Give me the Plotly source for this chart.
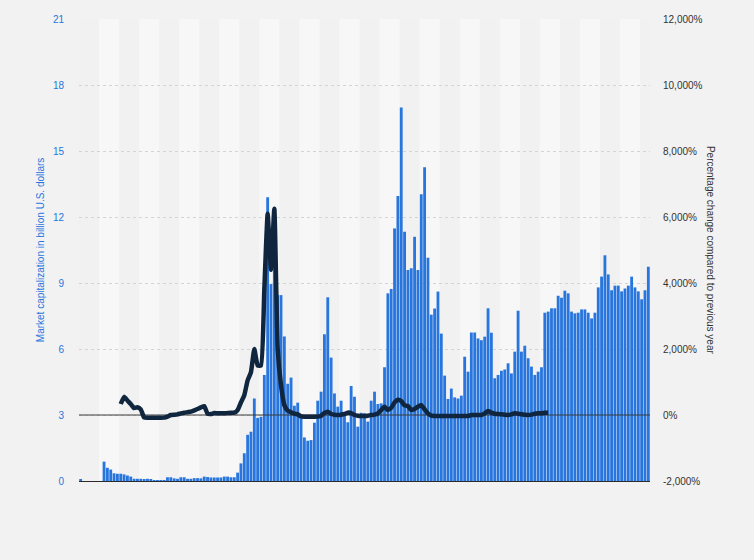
import plotly.graph_objects as go

# Market capitalization (billion U.S. dollars), one bar per month, oldest first
market_cap = [
    0.08, 0, 0, 0, 0, 0, 0, 0.88, 0.6, 0.52,
    0.35, 0.33, 0.33, 0.3, 0.25, 0.2, 0.1, 0.1, 0.1, 0.09,
    0.1, 0.05, 0.04, 0.03, 0.03, 0.03, 0.17, 0.17, 0.12, 0.1,
    0.17, 0.17, 0.1, 0.1, 0.13, 0.13, 0.12, 0.2, 0.18, 0.16,
    0.16, 0.16, 0.16, 0.2, 0.2, 0.17, 0.17, 0.38, 0.8, 1.26,
    2.1, 2.24, 3.75, 2.87, 2.92, 4.82, 12.9, 8.95, 10.8, 8.45,
    8.45, 6.57, 4.42, 4.7, 3.42, 3.56, 2.92, 1.98, 1.83, 1.86,
    2.65, 3.65, 4.06, 6.67, 8.35, 5.61, 3.98, 3.38, 3.65, 3.08,
    2.67, 4.32, 3.83, 2.47, 3.1, 3.08, 2.7, 3.65, 4.06, 3.5,
    3.53, 5.17, 8.53, 8.73, 11.48, 12.95, 16.98, 11.33, 9.59, 9.67,
    11.1, 9.59, 13.03, 14.26, 10.15, 7.56, 7.84, 8.61, 6.7, 4.79,
    3.73, 4.2, 3.8, 3.75, 3.88, 5.65, 4.97, 6.75, 6.75, 6.48,
    6.4, 6.56, 7.85, 6.74, 4.67, 4.82, 5.01, 5.07, 5.35, 4.89,
    5.88, 7.74, 5.88, 6.15, 5.58, 5.2, 4.82, 4.97, 5.17, 7.65,
    7.7, 7.85, 7.85, 8.42, 8.33, 8.65, 8.53, 7.7, 7.62, 7.65,
    7.8, 7.8, 7.65, 7.39, 7.65, 8.8, 9.29, 10.26, 9.39, 8.67,
    8.88, 8.88, 8.62, 8.75, 8.88, 9.29, 8.8, 8.62, 8.26, 8.67,
    9.74,
]

# Percentage change compared to previous year, starts with month 12
pct_start = 12
pct_change = [
    333, 550, 440, 333, 210, 233, 170, -75, -85, -85,
    -85, -85, -85, -80, -50, 0, 10, 20, 50, 70,
    85, 100, 140, 180, 230, 270, 40, 30, 60, 50,
    50, 50, 60, 70, 70, 150, 380, 600, 1050, 1300,
    2000, 1500, 1500, 3800, 6100, 4400, 6250, 2000, 900, 300,
    130, 80, 40, 20, -40, -50, -55, -55, -55, -50,
    -20, 60, 100, 30, 10, 0, 10, 30, 70, 60,
    0, -20, -30, -30, -20, 0, 10, 50, 150, 250,
    150, 220, 380, 460, 420, 290, 275, 150, 180, 250,
    300, 170, 50, -20, -30, -30, -30, -30, -30, -30,
    -30, -30, -30, -30, -30, 0, 0, 0, 0, 50,
    120, 70, 40, 30, 20, 10, 0, 20, 50, 40,
    20, 10, 0, 10, 40, 50, 50, 70, 70,
]

left_ticks = [0, 3, 6, 9, 12, 15, 18, 21]
right_ticks = [-2000, 0, 2000, 4000, 6000, 8000, 10000, 12000]
right_labels = [f"{v:,}%" for v in right_ticks]

months = list(range(len(market_cap)))
pct_x = months[pct_start:pct_start + len(pct_change)]

font = "Liberation Sans, Arial, sans-serif"
blue = "#2876dd"
dark = "#333333"

fig = go.Figure()

fig.add_trace(go.Bar(
    x=months,
    y=market_cap,
    marker_color=blue,
    marker_line_width=0,
    hoverinfo="skip",
))

# 0% reference line
fig.add_trace(go.Scatter(
    x=[months[0] - 0.5, months[-1] + 0.5],
    y=[0, 0],
    yaxis="y2",
    mode="lines",
    line=dict(color="#3a3a3a", width=1),
    hoverinfo="skip",
))

fig.add_trace(go.Scatter(
    x=pct_x,
    y=pct_change,
    yaxis="y2",
    mode="lines",
    line=dict(color="#10263f", width=4.5, shape="spline", smoothing=0.4),
))

# alternating background bands, six months each
shapes = []
for k in range(0, len(months), 6):
    if (k // 6) % 2 == 0:
        shapes.append(dict(
            type="rect", xref="x", yref="paper",
            x0=k - 0.5, x1=min(k + 5.5, months[-1] + 0.5), y0=0, y1=1,
            fillcolor="#f1f1f1", line_width=0, layer="below",
        ))

fig.update_layout(
    width=754,
    height=560,
    margin=dict(l=79, r=104, t=19, b=79),
    paper_bgcolor="#f2f2f2",
    plot_bgcolor="#f7f7f7",
    showlegend=False,
    bargap=0.15,
    shapes=shapes,
    font=dict(family=font, size=10, color=dark),
    xaxis=dict(
        range=[-0.5, months[-1] + 0.5],
        showticklabels=False,
        showgrid=False,
        zeroline=False,
        showline=True,
        linecolor="#2b2b2b",
        linewidth=1,
        ticks="",
    ),
    yaxis=dict(
        range=[0, 21],
        tickvals=left_ticks,
        tickfont=dict(color=blue, size=10),
        showgrid=True,
        gridcolor="#d4d4d4",
        griddash="dot",
        gridwidth=1,
        zeroline=False,
        ticklabelstandoff=14,
    ),
    yaxis2=dict(
        range=[-2000, 12000],
        tickvals=right_ticks,
        ticktext=right_labels,
        overlaying="y",
        side="right",
        showgrid=False,
        zeroline=False,
        tickfont=dict(color=dark, size=10),
        ticklabelstandoff=12,
    ),
    annotations=[
        dict(
            text="Market capitalization in billion U.S. dollars",
            xref="paper", yref="paper", x=-0.068, y=0.5,
            xanchor="center", yanchor="middle",
            textangle=-90, showarrow=False,
            font=dict(color=blue, size=10),
        ),
        dict(
            text="Percentage change compared to previous year",
            xref="paper", yref="paper", x=1.107, y=0.5,
            xanchor="center", yanchor="middle",
            textangle=90, showarrow=False,
            font=dict(color=dark, size=10),
        ),
    ],
)

fig.write_html(
    "out.html",
    config={"displayModeBar": False},
    post_script="document.body.style.margin='0';document.body.style.background='#f2f2f2';",
)
